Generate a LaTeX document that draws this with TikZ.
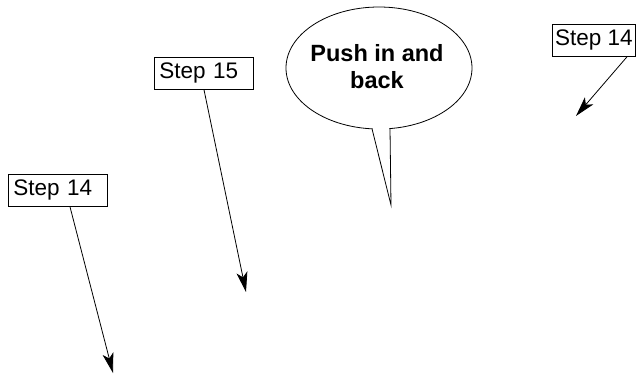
\documentclass[tikz,border=0pt]{standalone}
\usepackage{fontspec}
\setmainfont{Liberation Sans}
\usetikzlibrary{arrows.meta,shapes.geometric}
\begin{document}
\begin{tikzpicture}[x=1pt,y=-1pt,
  stepbox/.style={draw,line width=0.8pt,rectangle,anchor=north west,inner xsep=5pt,inner ysep=0pt,
    align=left,minimum height=32pt,font=\fontsize{22.5}{26}\selectfont},
  arr/.style={line width=0.8pt,-{Stealth[length=20pt,width=11pt,inset=5pt]}},
  bubble/.style={draw,line width=0.8pt,ellipse,inner sep=0pt,minimum width=186pt,minimum height=122pt},
  bubbletxt/.style={align=center,font=\fontsize{23.5}{27}\selectfont\bfseries,inner sep=0pt}]
\useasboundingbox (0,0) rectangle (640,375);
% boxes
\node[stepbox,text width=89pt] (s1) at (8,174) {Step 14};
\node[stepbox,text width=89pt] (s2) at (154,57) {Step 15};
\node[stepbox,inner xsep=0pt,minimum width=83pt] (s3) at (552,24) {Step 14};
% targets
\coordinate (t1) at (113,373);
\coordinate (t2) at (246,292);
\coordinate (t3) at (576,116);
\draw[arr] ([xshift=62pt]s1.south west) -- (t1);
\draw[arr] ([xshift=50pt]s2.south west) -- (t2);
\draw[arr] ([xshift=75pt]s3.south west) -- (t3);
% speech bubble
\node[bubble] (b) at (379,68) {};
\coordinate (tl) at (372,128.8);
\coordinate (tip) at (391,205);
\coordinate (tr) at (390,128.6);
\fill[white] (372.6,118) -- (372.6,129.6) -- (tip) -- (389.4,129.6) -- (389.4,118) -- cycle;
\draw[line width=0.8pt] (tl) -- (tip) -- (tr);
\node[bubbletxt] (bt) at (377,67) {Push in and\\back};
\end{tikzpicture}
\end{document}
